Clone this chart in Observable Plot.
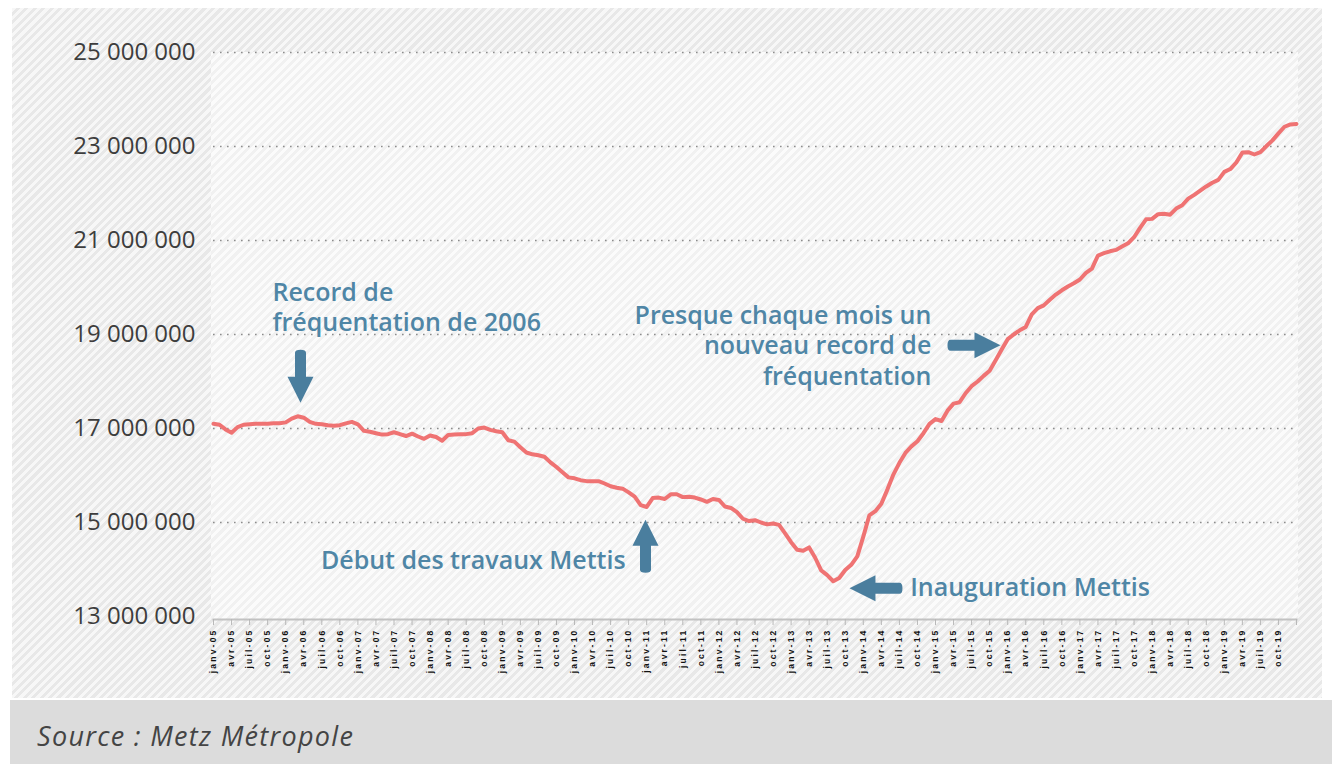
<!DOCTYPE html>
<html>
<head>
<meta charset="utf-8">
<script src="https://cdn.jsdelivr.net/npm/d3@7"></script>
<script src="https://cdn.jsdelivr.net/npm/@observablehq/plot@0.6"></script>
<style>
  body { margin: 0; background: #fff; }
  #wrap { position: relative; width: 1332px; height: 764px; overflow: hidden; font-family: "Open Sans", sans-serif; }
  #outer { position: absolute; left: 12px; top: 8px; width: 1310px; height: 690px;
    background: repeating-linear-gradient(135deg, #f7f7f7 0 3px, #e8e8e8 3px 6px); }
  #inner { position: absolute; left: 211px; top: 52px; width: 1087px; height: 567px;
    background: repeating-linear-gradient(135deg, #fbfbfb 0 3px, #f1f1f1 3px 6px); }
  #chart { position: absolute; left: 0; top: 0; }
  #source { position: absolute; left: 10px; top: 700px; width: 1322px; height: 64px; background: #dcdcdc; }
  #source span { position: absolute; left: 27px; top: 17px; line-height: 38px; font-style: italic; font-size: 27px; letter-spacing: 1.3px; color: #444; }
</style>
</head>
<body>
<div id="wrap">
  <div id="outer"></div>
  <div id="inner"></div>
  <div id="chart"></div>
  <div id="source"><span>Source : Metz Métropole</span></div>
</div>
<script>
// Monthly ridership (millions), janv-05 .. janv-20 (index = months since janv-05)
const ridership = [
  17.10, 17.08, 16.98, 16.91, 17.03, 17.08, 17.09, 17.10, 17.10, 17.10, 17.11, 17.11,
  17.13, 17.21, 17.26, 17.23, 17.14, 17.10, 17.09, 17.07, 17.06, 17.07, 17.11, 17.14,
  17.09, 16.95, 16.93, 16.90, 16.87, 16.88, 16.92, 16.88, 16.84, 16.89, 16.83, 16.78,
  16.85, 16.82, 16.74, 16.86, 16.87, 16.88, 16.88, 16.90, 17.00, 17.02, 16.97, 16.94,
  16.92, 16.75, 16.72, 16.60, 16.49, 16.45, 16.43, 16.40, 16.28, 16.18, 16.07, 15.96,
  15.94, 15.90, 15.88, 15.88, 15.88, 15.83, 15.77, 15.74, 15.72, 15.64, 15.55, 15.37,
  15.33, 15.52, 15.53, 15.50, 15.60, 15.60, 15.54, 15.55, 15.53, 15.49, 15.44, 15.50,
  15.48, 15.34, 15.31, 15.22, 15.08, 15.03, 15.05, 15.00, 14.96, 14.98, 14.95, 14.77,
  14.58, 14.42, 14.40, 14.47, 14.25, 13.98, 13.88, 13.75, 13.82, 13.99, 14.10, 14.28,
  14.70, 15.15, 15.24, 15.40, 15.70, 16.02, 16.27, 16.48, 16.62, 16.73, 16.90, 17.10,
  17.20, 17.16, 17.38, 17.53, 17.56, 17.75, 17.90, 18.00, 18.12, 18.23, 18.45, 18.68,
  18.90, 19.00, 19.09, 19.16, 19.43, 19.56, 19.62, 19.74, 19.85, 19.94, 20.02, 20.09,
  20.17, 20.31, 20.40, 20.68, 20.73, 20.77, 20.80, 20.87, 20.94, 21.07, 21.27, 21.45,
  21.46, 21.56, 21.57, 21.55, 21.68, 21.75, 21.89, 21.97, 22.06, 22.15, 22.23, 22.29,
  22.46, 22.52, 22.66, 22.87, 22.88, 22.83, 22.88, 23.01, 23.13, 23.28, 23.42, 23.47,
  23.48
];

const years = ["05","06","07","08","09","10","11","12","13","14","15","16","17","18","19"];
const quarterMonths = ["janv","avr","juil","oct"];
const yTicks = [13e6, 15e6, 17e6, 19e6, 21e6, 23e6, 25e6];
const gridTicks = [15e6, 17e6, 19e6, 21e6, 23e6, 25e6];

// annotations: x in months since janv-05, y in passengers
const labelsStart = [
  { x: 9.8,   y: 19.60e6, text: "Record de\nfréquentation de 2006" },
  { x: 115.8, y: 13.64e6, text: "Inauguration Mettis" }
];
const labelsEnd = [
  { x: 68.5,  y: 14.21e6, text: "Début des travaux Mettis" },
  { x: 119.3, y: 18.79e6, text: "Presque chaque mois un\nnouveau record de\nfréquentation" }
];
const arrows = [
  { x: 14.46, y: 17.55e6, rot: 90 },
  { x: 71.8,  y: 15.06e6, rot: -90 },
  { x: 105.7, y: 13.60e6, rot: 180 },
  { x: 130.8, y: 18.77e6, rot: 0 }
];

const series = ridership.map((v, i) => ({ i, v: v * 1e6 }));
const tickLabels = years.flatMap(y => quarterMonths.map(m => `${m}-${y}`));
const xTicks = d3.range(0, 181, 3);

const fmt = d => d3.format(",")(d).replace(/,/g, " ");

const blockArrow = {
  draw(ctx) {
    ctx.moveTo(0, 0);
    ctx.lineTo(-26, -13);
    ctx.lineTo(-26, -5.5);
    ctx.lineTo(-50, -5.5);
    ctx.quadraticCurveTo(-53, -5.5, -53, 0);
    ctx.quadraticCurveTo(-53, 5.5, -50, 5.5);
    ctx.lineTo(-26, 5.5);
    ctx.lineTo(-26, 13);
    ctx.closePath();
  }
};

const annoColor = "#4f86a6";
const annoText = { x: "x", y: "y", text: "text", lineAnchor: "middle", fontSize: 25, fontWeight: 600, fill: annoColor, lineHeight: 1.22 };

const chart = Plot.plot({
  width: 1332,
  height: 700,
  marginLeft: 213,
  marginRight: 36,
  marginTop: 52,
  marginBottom: 81,
  style: { fontFamily: "Open Sans", background: "transparent", overflow: "visible" },
  x: { domain: [0, 180] },
  y: { domain: [13e6, 25e6], insetBottom: 3 },
  marks: [
    Plot.gridY(gridTicks, { stroke: "#8c8c8c", strokeOpacity: 1, strokeWidth: 1.6, strokeDasharray: "1.6 5.4" }),
    Plot.frame({ anchor: "bottom", stroke: "#c2c2c2", strokeWidth: 2 }),
    Plot.axisX(xTicks, { tickSize: 6, tickFormat: () => "", color: "#b8b8b8" }),
    Plot.axisX(xTicks, {
      tickSize: 0, tickPadding: 9, tickRotate: -90,
      tickFormat: i => tickLabels[i / 3] || "",
      color: "#111", fontSize: 8.5, fontWeight: "bold", fontFamily: "Liberation Sans"
    }),
    Plot.axisY(yTicks, { tickSize: 0, tickPadding: 18, tickFormat: fmt, color: "#3d3d3d", fontSize: 24 }),
    Plot.line(series, { x: "i", y: "v", stroke: "#ef7373", strokeWidth: 4, strokeLinejoin: "round", strokeLinecap: "round" }),
    Plot.dot(arrows, { x: "x", y: "y", rotate: "rot", symbol: blockArrow, r: 5, fill: "#4a7e9e", stroke: "none" }),
    Plot.text(labelsStart, { ...annoText, textAnchor: "start" }),
    Plot.text(labelsEnd, { ...annoText, textAnchor: "end" })
  ]
});

d3.select(chart).selectAll("g[aria-label='x-axis tick label'] text").attr("letter-spacing", "2.2");

document.getElementById("chart").appendChild(chart);
</script>
</body>
</html>
